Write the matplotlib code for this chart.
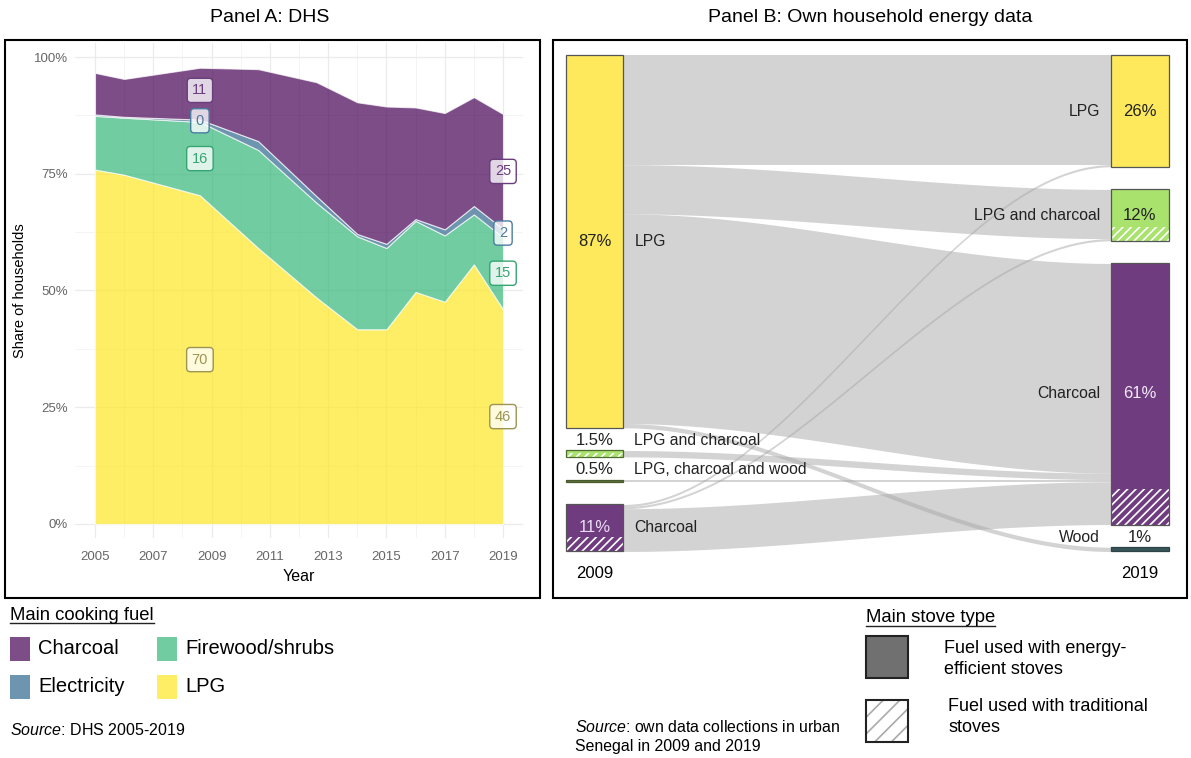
import numpy as np
import matplotlib
matplotlib.use("Agg")
import matplotlib.pyplot as plt
from matplotlib import font_manager
from matplotlib.patches import Rectangle
from matplotlib.lines import Line2D

# ---- Panel A: DHS, main cooking fuel (share of households, %)
years = [2005, 2006, 2008.6, 2010.6, 2012.6, 2014, 2015, 2016, 2017, 2018, 2019]
lpg = [75.9, 74.8, 70.4, 59.1, 48.5, 41.7, 41.7, 49.7, 47.6, 55.6, 46.0]
firewood = [11.5, 12.2, 15.7, 21.0, 20.3, 19.9, 17.4, 15.2, 14.2, 10.7, 15.4]
electricity = [0.3, 0.2, 0.5, 1.9, 1.4, 0.5, 0.9, 0.4, 1.3, 1.8, 1.8]
charcoal = [8.9, 8.1, 11.1, 15.4, 24.4, 28.2, 29.4, 23.9, 24.9, 23.3, 24.6]
label_idx = [2, 10]

# ---- Panel B: own household energy data
nodes_2009 = ["LPG", "LPG and charcoal", "LPG, charcoal and wood", "Charcoal"]
share_2009 = [87, 1.5, 0.5, 11]
trad_2009 = [0, 0.8, 0, 3.4]      # part used with traditional stoves
nodes_2019 = ["LPG", "LPG and charcoal", "Charcoal", "Wood"]
share_2019 = [26, 12, 61, 1]
trad_2019 = [0, 3.2, 8.4, 0]
flow_from = [0, 0, 0, 0, 1, 2, 3, 3, 3]
flow_to = [0, 1, 2, 3, 2, 2, 0, 1, 2]
flow_value = [25.5, 11.5, 49, 1, 1.5, 0.5, 0.5, 0.5, 10]

names = {f.name for f in font_manager.fontManager.ttflist}
narrow = "Liberation Sans Narrow" if "Liberation Sans Narrow" in names else "Liberation Sans"
plt.rcParams["font.family"] = ["Liberation Sans", "DejaVu Sans"]
plt.rcParams["mathtext.fontset"] = "custom"
plt.rcParams["mathtext.rm"] = narrow
plt.rcParams["mathtext.it"] = narrow + ":italic"
plt.rcParams["hatch.linewidth"] = 1.2

W, H = 1191, 758
fig = plt.figure(figsize=(W / 100, H / 100), dpi=100)


def fx(px):
    return px / W


def fy(py):
    return 1 - py / H


# frames and titles
for x0, x1 in [(5, 540), (553, 1187)]:
    fig.add_artist(Rectangle((fx(x0), fy(598)), (x1 - x0) / W, 558 / H,
                             transform=fig.transFigure, fill=False, ec="black", lw=1.5))
fig.text(fx(270), fy(18), "Panel A: DHS", ha="center", va="center", fontsize=14)
fig.text(fx(870), fy(18), "Panel B: Own household energy data", ha="center", va="center", fontsize=14)

# ---------------- Panel A
fuel_colors = ["#FDE725", "#35B779", "#31688E", "#440154"]  # LPG, firewood, electricity, charcoal
label_text = ["#9c9450", "#35a572", "#4a7ca0", "#6a3d7c"]
ax = fig.add_axes([fx(74.6), fy(538), (523.4 - 74.6) / W, (538 - 43) / H])
ax.set_xlim(2004.3, 2019.7)
ax.set_ylim(-3, 103)
ax.set_xticks(range(2005, 2020, 2))
ax.set_xticks(range(2006, 2019, 2), minor=True)
ax.set_yticks([0, 25, 50, 75, 100])
ax.set_yticks([12.5, 37.5, 62.5, 87.5], minor=True)
ax.set_yticklabels(["0%", "25%", "50%", "75%", "100%"])
ax.grid(which="major", color="#EBEBEB", lw=0.9)
ax.grid(which="minor", color="#F2F2F2", lw=0.6)
ax.set_axisbelow(True)
for s in ax.spines.values():
    s.set_visible(False)
ax.tick_params(which="both", length=0, labelsize=9.5, labelcolor="#666666")
ax.tick_params(axis="x", pad=9)
ax.tick_params(axis="y", pad=5)
ax.set_xlabel("Year", fontsize=11.5, labelpad=5)
ax.set_ylabel("Share of households", fontsize=10.5, labelpad=5)

series = [lpg, firewood, electricity, charcoal]
ax.stackplot(years, *series, colors=fuel_colors, alpha=0.7, edgecolor="white", lw=0.8)
cum = np.cumsum(np.array(series), axis=0)
for i in label_idx:
    prev = -100
    for k in range(4):
        mid = cum[k, i] - series[k][i] / 2
        mid = max(mid, prev + 6.5)   # keep labels from overlapping
        prev = mid
        ax.text(years[i], mid, f"{round(series[k][i])}", ha="center", va="center",
                fontsize=10.5, color=label_text[k],
                bbox=dict(boxstyle="round,pad=0.35,rounding_size=0.25",
                          fc=(1, 1, 1, 0.78), ec=label_text[k], lw=1))

# ---------------- Panel B
node_colors_2009 = ["#FDE95B", "#A9E26D", "#5F733C", "#703C80"]
node_colors_2019 = ["#FDE95B", "#A9E26D", "#703C80", "#37565A"]
edge_2009 = ["#555555", "#4f6b30", "#4a5a2e", "#555555"]
edge_2019 = ["#555555", "#555555", "#555555", "#2c4446"]
text_colors_2009 = ["#222222", "#222222", "#222222", "#EADCF2"]
text_colors_2019 = ["#222222", "#222222", "#F2EAF6", "#222222"]
gap = 5.3
bw = 0.1063

ax2 = fig.add_axes([fx(555), fy(590), 630 / W, 545 / H])
ax2.set_xlim(-0.0724, 1.0825)
ax2.set_ylim(124.9, -2.45)
ax2.axis("off")


def stack(shares):
    tops = []
    y = 0
    for s in shares:
        tops.append(y)
        y += s + gap
    return tops


top_l = stack(share_2009)
top_r = stack(share_2019)

# flows
left_off = list(top_l)
right_off = list(top_r)
lt = [0] * len(flow_value)
rt = [0] * len(flow_value)
for j in range(len(flow_value)):
    lt[j] = left_off[flow_from[j]]
    left_off[flow_from[j]] += flow_value[j]
for j in sorted(range(len(flow_value)), key=lambda j: (flow_to[j], flow_from[j])):
    rt[j] = right_off[flow_to[j]]
    right_off[flow_to[j]] += flow_value[j]

t = np.linspace(0, 1, 200)
sm = 3 * t ** 2 - 2 * t ** 3
xs = bw / 2 + t * (1 - bw)
for j in range(len(flow_value)):
    y_top = lt[j] + (rt[j] - lt[j]) * sm
    ax2.fill_between(xs, y_top, y_top + flow_value[j], color="#A8A8A8", alpha=0.5, lw=0)


def draw_column(xc, tops, shares, trad, colors, edges, tcolors, names_, side):
    for i, (y0, s) in enumerate(zip(tops, shares)):
        ax2.add_patch(Rectangle((xc - bw / 2, y0), bw, s, fc=colors[i], ec="none"))
        if trad[i] > 0:
            ax2.add_patch(Rectangle((xc - bw / 2, y0 + s - trad[i]), bw, trad[i],
                                    fc=colors[i], ec="white", lw=0, hatch="////"))
        ax2.add_patch(Rectangle((xc - bw / 2, y0), bw, s, fill=False, ec=edges[i], lw=0.9))
        pct = f"{s:g}%"
        if s >= 2:
            ty = y0 + s / 2
            ax2.text(xc, ty, pct, ha="center", va="center", fontsize=12,
                     family=narrow, color=tcolors[i])
            va = "center"
        else:
            ty = y0 - 0.5
            ax2.text(xc, ty, pct, ha="center", va="bottom", fontsize=12,
                     family=narrow, color="#222222")
            va = "bottom"
        if side == "right":
            ax2.text(xc + bw / 2 + 0.02, ty, names_[i], ha="left", va=va,
                     fontsize=11.3, family=narrow, color="#222222")
        else:
            ax2.text(xc - bw / 2 - 0.02, ty, names_[i], ha="right", va=va,
                     fontsize=11.3, family=narrow, color="#222222")


draw_column(0, top_l, share_2009, trad_2009, node_colors_2009, edge_2009, text_colors_2009,
            nodes_2009, "right")
draw_column(1, top_r, share_2019, trad_2019, node_colors_2019, edge_2019, text_colors_2019,
            nodes_2019, "left")
ax2.text(0, 121, "2009", ha="center", va="center", fontsize=12, family=narrow)
ax2.text(1, 121, "2019", ha="center", va="center", fontsize=12, family=narrow)

# ---------------- legends and sources
under = []
under.append(fig.text(fx(10), fy(615), "Main cooking fuel", ha="left", va="center",
                      fontsize=13.3, family=narrow))
leg_items = [("Charcoal", 3, 10, 649), ("Firewood/shrubs", 1, 157, 649),
             ("Electricity", 2, 10, 687), ("LPG", 0, 157, 687)]
for name, k, px, py in leg_items:
    fig.add_artist(Rectangle((fx(px), fy(py + 12)), 20 / W, 24 / H, transform=fig.transFigure,
                             fc=fuel_colors[k], alpha=0.7, ec="none"))
    fig.text(fx(px + 28), fy(py), name, ha="left", va="center", fontsize=14.5, family=narrow)
fig.text(fx(10), fy(730), r"$\it{Source}$: DHS 2005-2019", ha="left", va="center", fontsize=11.5)

fig.text(fx(575), fy(727), r"$\it{Source}$: own data collections in urban", ha="left",
         va="center", fontsize=11.4)
fig.text(fx(575), fy(747), r"Senegal in 2009 and 2019", ha="left", va="center",
         fontsize=11.4, family=narrow)

under.append(fig.text(fx(866), fy(618), "Main stove type", ha="left", va="center",
                      fontsize=13.3, family=narrow))
fig.add_artist(Rectangle((fx(866), fy(678)), 42 / W, 42 / H, transform=fig.transFigure,
                         fc="#707070", ec="#222222", lw=1.5))
fig.add_artist(Rectangle((fx(866), fy(742)), 42 / W, 42 / H, transform=fig.transFigure,
                         fc="white", ec="#AAAAAA", lw=0, hatch="//"))
fig.add_artist(Rectangle((fx(866), fy(742)), 42 / W, 42 / H, transform=fig.transFigure,
                         fill=False, ec="#222222", lw=1.5))
fig.text(fx(944), fy(659), "Fuel used with energy-\nefficient stoves", ha="left", va="center",
         fontsize=13, family=narrow, linespacing=1.25)
fig.text(fx(948), fy(717), "Fuel used with traditional\nstoves", ha="left", va="center",
         fontsize=13, family=narrow, linespacing=1.25)

fig.canvas.draw()
r = fig.canvas.get_renderer()
for tx in under:
    bb = tx.get_window_extent(r)
    fig.add_artist(Line2D([bb.x0 / W, bb.x1 / W], [(bb.y0 + 1) / H] * 2,
                          transform=fig.transFigure, color="#222222", lw=1))

fig.savefig("out.png", dpi=100)
